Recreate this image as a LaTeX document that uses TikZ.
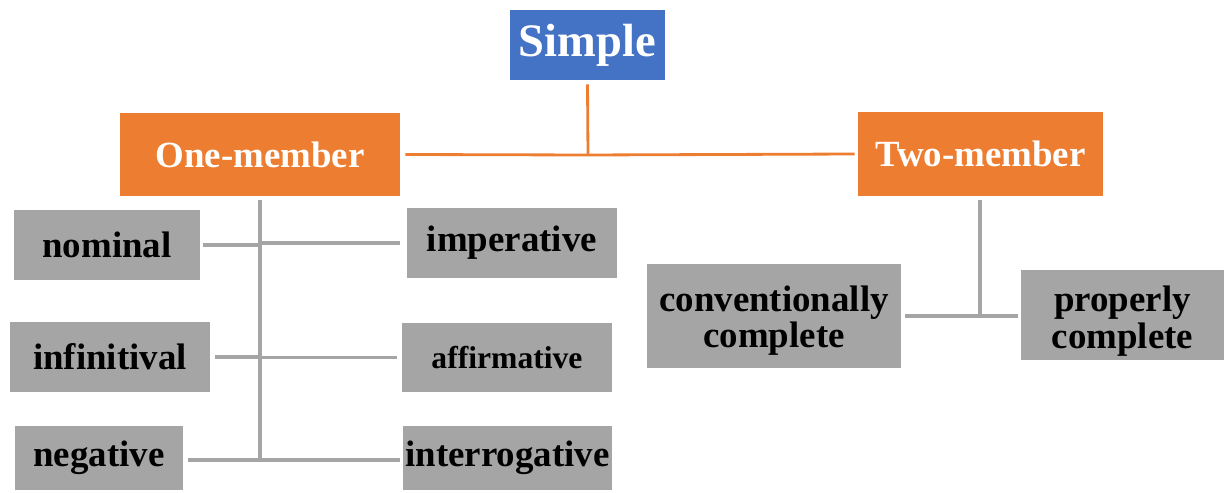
\documentclass[tikz,border=0pt]{standalone}
\usepackage{fontspec}
\setmainfont{Liberation Serif}
\usetikzlibrary{calc}
\definecolor{boxblue}{HTML}{4472C4}
\definecolor{boxorange}{HTML}{ED7D31}
\definecolor{boxgray}{HTML}{A5A5A5}
\begin{document}
\begin{tikzpicture}[x=0.02cm,y=-0.02cm]
    \tikzstyle{box}=[rectangle,inner sep=0pt,align=center,font=\bfseries\fontsize{21}{21}\selectfont]
    \tikzstyle{top}=[box,fill=boxblue,text=white,minimum width=3.1cm,minimum height=1.4cm,font=\bfseries\fontsize{26.5}{28}\selectfont]
    \tikzstyle{member}=[box,fill=boxorange,text=white,minimum height=1.67cm]
    \tikzstyle{kind}=[box,fill=boxgray,text=black,minimum height=1.4cm]
    \tikzstyle{orangeline}=[boxorange,line width=1.6pt]
    \tikzstyle{grayline}=[boxgray,line width=1.8pt]
    \useasboundingbox (0,0) rectangle (1228,493);

    \node (s)[top] at (587.5,45) {Simple};
    \node (o)[member,minimum width=5.6cm] at (260,154.5) {One-member};
    \node (t)[member,minimum width=4.9cm] at (980.5,154) {Two-member};

    \node (nom)[kind,minimum width=3.72cm] at (107,245) {nominal};
    \node (imp)[kind,minimum width=4.2cm] at (512,243) {imperative};
    \node (inf)[kind,minimum width=4cm] at (110,357) {infinitival};
    \node (aff)[kind,minimum width=4.2cm,font=\bfseries\fontsize{18}{19}\selectfont] at (507,357.5) {affirmative};
    \node (neg)[kind,minimum width=3.36cm,minimum height=1.3cm] at (99,458) {negative};
    \node (int)[kind,minimum width=4.18cm,minimum height=1.3cm] at (507.5,458) {interrogative};
    \node (con)[kind,minimum width=5.08cm,minimum height=2.08cm,text height=1.38cm,text depth=0.1cm] at (774,316) {conventionally\\complete};
    \node (pro)[kind,minimum width=4.06cm,minimum height=1.8cm,text height=1.44cm,text depth=0.1cm] at (1122.5,315) {properly\\complete};

    \coordinate (oj) at (588,155);
    \draw[orangeline] ($(s.south)+(0,4)$) -- (oj);
    \draw[orangeline] ($(o.east)+(5,0)$) -- (oj) -- ($(t.west)+(-3,0)$);

    \coordinate (lt) at (260,200);
    \coordinate (lb) at (260,460);
    \draw[grayline] (lt) -- (lb);
    \draw[grayline] ($(nom.east)+(3,0)$) -- (nom.east -| lt);
    \draw[grayline] ($(imp.west)+(-7,0)$) -- (imp.west -| lt);
    \draw[grayline] ($(inf.east)+(5,0)$) -- (inf.east -| lt);
    \draw[grayline] ($(aff.west)+(-5,0)$) -- (aff.west -| lt);
    \draw[grayline] ($(neg.east)+(5,2)$) -- (lb) -- ($(int.west)+(-3,2)$);

    \coordinate (rt) at (980,200);
    \coordinate (rb) at (980,316);
    \draw[grayline] (rt) -- (rb);
    \draw[grayline] ($(con.east)+(4,0)$) -- (rb) -- ($(pro.west)+(-3,1)$);
\end{tikzpicture}
\end{document}
